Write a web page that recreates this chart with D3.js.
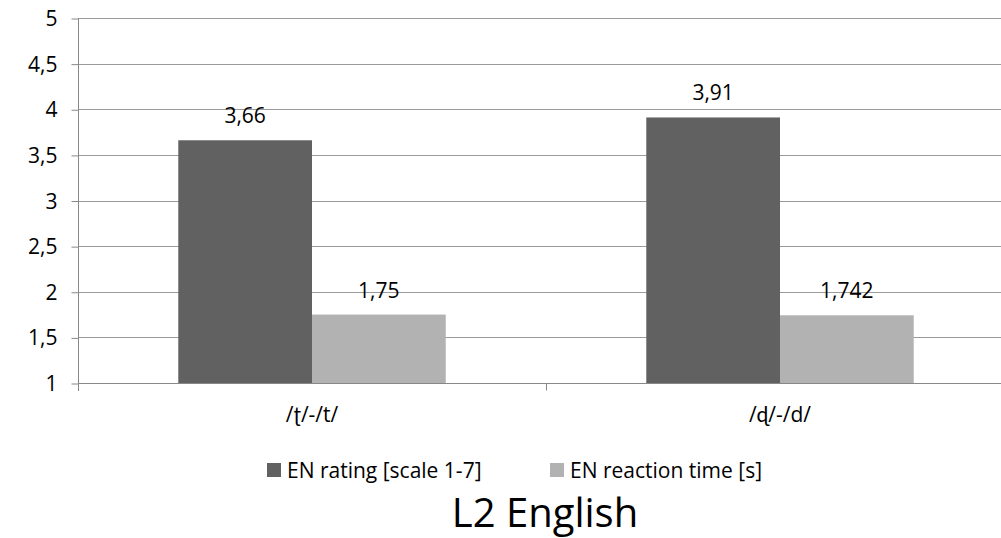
<!DOCTYPE html>
<html>
<head>
<meta charset="utf-8">
<script src="https://cdn.jsdelivr.net/npm/d3@7"></script>
<style>
  html, body { margin: 0; padding: 0; background: #fff; }
  svg { display: block; }
  text { font-family: "Gill Sans", "Open Sans", "Lato", sans-serif; fill: #000; }
</style>
</head>
<body>
<svg id="chart" width="1001" height="538"></svg>
<script>
// Categories (phoneme pairs) and the two series
const categories = ["/ʈ/-/t/", "/ɖ/-/d/"];
const seriesNames = ["EN rating [scale 1-7]", "EN reaction time [s]"];
const ratingValues = [3.66, 3.91];
const reactionValues = [1.75, 1.742];
const valueLabels = [["3,66", "1,75"], ["3,91", "1,742"]];
const yTicks = [1, 1.5, 2, 2.5, 3, 3.5, 4, 4.5, 5];
const yTickLabels = ["1", "1,5", "2", "2,5", "3", "3,5", "4", "4,5", "5"];
const titleText = "L2 English";

const colors = ["#616161", "#b2b2b2"];
const bodyFont = '"Gill Sans", "Open Sans", "Lato", sans-serif';
const bodySize = 21;

const svg = d3.select("#chart");
const W = 1001, H = 538;
const plot = { left: 78, right: 1014, top: 18, bottom: 383 };

const x = d3.scaleBand().domain(categories).range([plot.left, plot.right]).paddingInner(0).paddingOuter(0);
const inner = d3.scaleBand().domain([0, 1]).range([0, x.bandwidth()]).paddingInner(0).paddingOuter(0.75);
const y = d3.scaleLinear().domain([1, 5]).range([plot.bottom, plot.top]);

svg.append("defs").append("clipPath").attr("id", "clip")
  .append("rect").attr("x", 0).attr("y", 0).attr("width", W).attr("height", H);

const g = svg.append("g").attr("clip-path", "url(#clip)");

// Horizontal gridlines
g.append("g").selectAll("line").data(yTicks.filter(t => t !== 1)).join("line")
  .attr("x1", plot.left).attr("x2", plot.right)
  .attr("y1", d => Math.round(y(d)) + 0.5).attr("y2", d => Math.round(y(d)) + 0.5)
  .attr("stroke", "#9a9a9a").attr("stroke-width", 1);

// Bars
const data = categories.map((c, i) => ({ cat: c, vals: [ratingValues[i], reactionValues[i]], labels: valueLabels[i] }));
const groups = g.append("g").selectAll("g").data(data).join("g")
  .attr("transform", d => `translate(${x(d.cat)},0)`);

groups.selectAll("rect").data(d => d.vals.map((v, k) => ({ v, k }))).join("rect")
  .attr("x", d => inner(d.k))
  .attr("width", inner.bandwidth())
  .attr("y", d => y(d.v))
  .attr("height", d => y(1) - y(d.v))
  .attr("fill", d => colors[d.k]);

groups.selectAll("text").data(d => d.vals.map((v, k) => ({ v, k, label: d.labels[k] }))).join("text")
  .attr("x", d => inner(d.k) + inner.bandwidth() / 2)
  .attr("y", d => y(d.v) - 17)
  .attr("text-anchor", "middle")
  .attr("font-size", bodySize)
  .text(d => d.label);

// Y axis
const yAxis = d3.axisLeft(y).tickValues(yTicks).tickSize(7).tickFormat((d, i) => yTickLabels[i]);
const ya = g.append("g").attr("transform", `translate(${plot.left + 0.5},0)`).call(yAxis);
ya.select(".domain").attr("stroke", "#888").attr("d", `M0,${plot.top}V${plot.bottom + 8}`);
ya.selectAll(".tick line").attr("stroke", "#888").attr("transform", "translate(0,0.5)");
ya.selectAll(".tick text").attr("font-size", bodySize).attr("x", -21).attr("dy", "0.36em")
  .style("font-family", bodyFont).attr("fill", "#000");

// X axis
const xa = g.append("g").attr("transform", `translate(0,${plot.bottom + 0.5})`);
xa.append("line").attr("x1", plot.left).attr("x2", plot.right).attr("stroke", "#888");
xa.selectAll("line.tk").data(categories.slice(1)).join("line").attr("class", "tk")
  .attr("x1", d => Math.round(x(d)) + 0.5).attr("x2", d => Math.round(x(d)) + 0.5)
  .attr("y1", 0).attr("y2", 7).attr("stroke", "#888");
xa.selectAll("text").data(categories).join("text")
  .attr("x", d => x(d) + x.bandwidth() / 2)
  .attr("y", 38)
  .attr("text-anchor", "middle")
  .attr("font-size", bodySize)
  .text(d => d);

// Legend
const legend = svg.append("g");
const legendItems = [{ name: seriesNames[0], x: 267 }, { name: seriesNames[1], x: 550 }];
legendItems.forEach((it, k) => {
  legend.append("rect").attr("x", it.x).attr("y", 463).attr("width", 14).attr("height", 14).attr("fill", colors[k]);
  legend.append("text").attr("x", it.x + 20).attr("y", 478).attr("font-size", bodySize).text(it.name);
});

// Title
svg.append("text").attr("x", 545).attr("y", 527).attr("text-anchor", "middle")
  .attr("font-size", 40).style("font-family", '"Open Sans", "Noto Sans", sans-serif')
  .text(titleText);
</script>
</body>
</html>
